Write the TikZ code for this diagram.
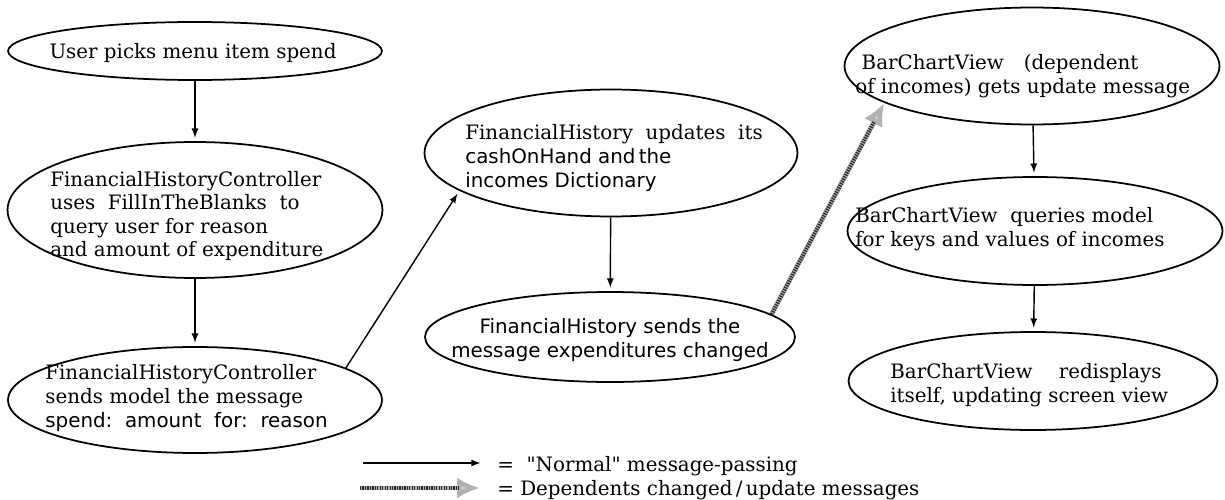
\documentclass[tikz,border=0pt]{standalone}
\usepackage{fontspec}
\setmainfont{DejaVu Serif}
\newfontfamily\plainsans{DejaVu Sans}
\newfontfamily\rawserif{DejaVu Serif}
\usepackage{tikz}
\usetikzlibrary{shapes.geometric, arrows, arrows.meta}
\tikzstyle{bubble} = [ellipse, draw=black, line width=1pt, inner sep=0pt]
\tikzstyle{words} = [align=left, inner sep=0pt, anchor=west, font=\fontsize{11.3}{13.4}\selectfont]
\tikzstyle{cwords} = [align=center, inner sep=0pt, font=\fontsize{11.3}{13.4}\selectfont]
\tikzstyle{normal} = [->, >=latex, line width=0.8pt, shorten >=2pt]
\tikzstyle{depend} = [line width=2.8pt, draw=gray!60, -{Latex[length=13pt,width=12pt,fill=gray!35]},
    postaction={draw=black!85, -, line width=2.2pt, dash pattern=on 0.7pt off 0.7pt, shorten >=12pt}]

\begin{document}
\begin{tikzpicture}[x=0.02cm, y=-0.02cm]
    \useasboundingbox (0,0) rectangle (1225,500);
    % left column: controller
    \node at (195,51) [bubble, minimum width=7.48cm, minimum height=1.16cm] (pick) {};
    \node at (193,53) [cwords] (pickt) {User picks menu item spend};
    \node at (195,210) [bubble, minimum width=7.5cm, minimum height=2.72cm] (query) {};
    \node at (50,216) [words] (queryt) {FinancialHistoryController\\uses\ \ FillInTheBlanks\ \ to\\query user for reason\\and amount of expenditure};
    \node at (195,400) [bubble, minimum width=7.48cm, minimum height=2.12cm] (send) {};
    \node at (45,398) [words] (sendt) {FinancialHistoryController\\sends model the message\\{\plainsans spend:\ \ amount\ \ for:\ \ reason}};

    % middle column: model
    \node at (611,153) [bubble, minimum width=7.46cm, minimum height=2.54cm] (update) {};
    \node at (465,158) [words] (updatet) {FinancialHistory\ \ updates\ \ its\\{\plainsans cashOnHand and\,the}\\{\plainsans incomes Dictionary}};
    \node at (610,337) [bubble, minimum width=7.4cm, minimum height=1.8cm] (notify) {};
    \node at (610,340) [cwords, font=\fontsize{11.3}{13.4}\plainsans] (notifyt) {FinancialHistory sends the\\message expenditures changed};

    % right column: view
    \node at (1032,66) [bubble, minimum width=7.5cm, minimum height=2.34cm] (barupd) {};
    \node at (855,76) [words] (barupdt) {\ BarChartView\quad(dependent\\of incomes) gets update message};
    \node at (1035,231) [bubble, minimum width=7.5cm, minimum height=2.16cm] (barqry) {};
    \node at (855,229) [words] (barqryt) {BarChartView\ \ queries model\\for keys and values of incomes};
    \node at (1033,381) [bubble, minimum width=7.38cm, minimum height=1.96cm] (redraw) {};
    \node at (890,385) [words] (redrawt) {BarChartView\quad\ redisplays\\itself, updating screen view};

    % legend
    \coordinate (n0) at (363,463);
    \coordinate (n1) at (484,463);
    \node at (497,466) [words] (normalt) {=\ \ {\rawserif"}Normal{\rawserif"} message-passing};
    \coordinate (d0) at (360,488);
    \coordinate (d1) at (480,488);
    \node at (497,490) [words] (dependt) {= Dependents changed\,/\,update messages};

    \draw[normal] (pick) -- (query);
    \draw[normal] (query) -- (send);
    \draw[normal] (send.12) -- (update.194);
    \draw[normal] (update) -- (notify);
    \draw[depend] (notify.8) -- (barupd.194);
    \draw[normal] (barupd) -- (barqry);
    \draw[normal] (barqry) -- (redraw);
    \draw[normal] (n0) -- (n1);
    \draw[depend] (d0) -- (d1);
\end{tikzpicture}
\end{document}
